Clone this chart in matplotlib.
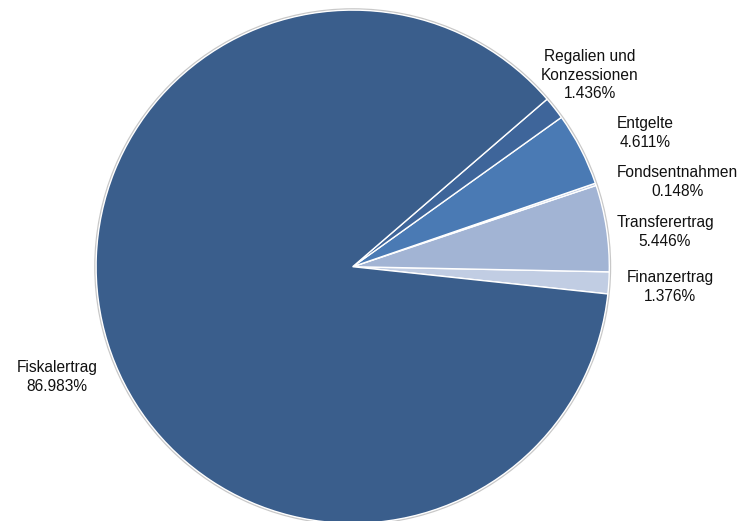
import matplotlib.pyplot as plt
from matplotlib.patches import Circle

# Data (counterclockwise from the lower right)
categories = ['Finanzertrag', 'Transferertrag', 'Fondsentnahmen', 'Entgelte',
              'Regalien und\nKonzessionen', 'Fiskalertrag']
shares = [1.376, 5.446, 0.148, 4.611, 1.436, 86.983]
colors = ['#c1cde3', '#a2b4d4', '#b8c6df', '#4a7ab4', '#3e659a', '#3a5e8c']

# label anchor points in pixel coords (x, y from top)
label_pos = [(670, 287), (665, 232), (677, 182), (645, 133), (590, 75), (57, 377)]

W, H = 742, 521
fig = plt.figure(figsize=(W / 100, H / 100), dpi=100)
ax = fig.add_axes([0, 0, 1, 1])

cx, cy, r = 352.7, H - 266.7, 256.6

# faint outline around the pie
ax.add_patch(Circle((cx, cy), r + 0.8, facecolor='none', edgecolor='#c8c8c8', lw=1.6, zorder=0))

ax.pie(shares, colors=colors, startangle=-6.1, counterclock=True,
       center=(cx, cy), radius=r, frame=True,
       wedgeprops=dict(edgecolor='white', linewidth=1.0))
ax.set_xlim(0, W)
ax.set_ylim(0, H)
ax.set_aspect('equal')
ax.axis('off')

for name, val, (px, py) in zip(categories, shares, label_pos):
    ax.text(px, H - py, f'{name}\n{val:.3f}%', ha='center', va='center',
            fontsize=11.2, family='Liberation Sans', linespacing=1.28, color='#111111')

plt.savefig('out.png', dpi=100)
